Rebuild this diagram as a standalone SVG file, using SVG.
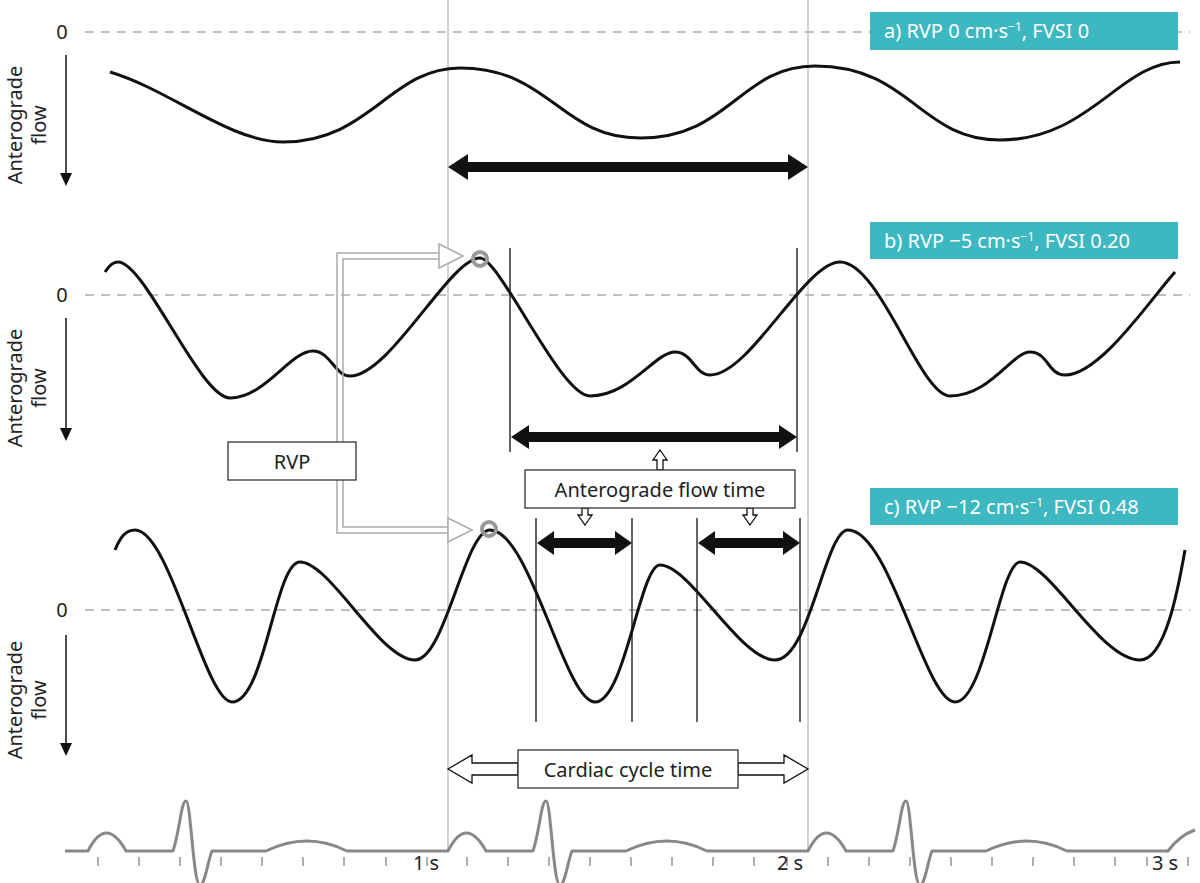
<svg xmlns="http://www.w3.org/2000/svg" width="1200" height="883" viewBox="0 0 1200 883">
<style>
text{font-family:"Source Sans Pro","Noto Sans","Open Sans",sans-serif;fill:#222}
.zero{stroke:#aaa;stroke-width:1.5;stroke-dasharray:9 7;fill:none}
.grid{stroke:#c4c4c4;stroke-width:1.5}
.wave{stroke:#111;stroke-width:3;fill:none}
.vl{stroke:#111;stroke-width:1.3}
.big{fill:#111}
.open{fill:#fff;stroke:#111;stroke-width:1.3}
.box{fill:#fff;stroke:#333;stroke-width:1.3}
.teal{fill:#3db8c0}
.tl{fill:#fff;font-size:20px}
.gconn{fill:none;stroke:#aaa;stroke-width:1.5}
</style>
<rect width="1200" height="883" fill="#fff"/>
<g id="axes">
<line class="grid" x1="448" y1="0" x2="448" y2="852"/>
<line class="grid" x1="808" y1="0" x2="808" y2="852"/>
<line class="zero" x1="85" y1="32" x2="1190" y2="32"/>
<line class="zero" x1="85" y1="295" x2="1190" y2="295"/>
<line class="zero" x1="85" y1="610" x2="1190" y2="610"/>
<g font-size="20">
<text x="62" y="39" text-anchor="middle">0</text>
<text x="62" y="302" text-anchor="middle">0</text>
<text x="62" y="617" text-anchor="middle">0</text>
</g>
<g stroke="#111" stroke-width="1.5">
<line x1="66" y1="55" x2="66" y2="175"/><line x1="66" y1="318" x2="66" y2="430"/><line x1="66" y1="635" x2="66" y2="745"/>
</g>
<g fill="#111">
<polygon points="60,173 72,173 66,186"/><polygon points="60,428 72,428 66,441"/><polygon points="60,743 72,743 66,756"/>
</g>
<g font-size="20" text-anchor="middle">
<text transform="translate(22,125) rotate(-90)">Anterograde</text><text transform="translate(46,125) rotate(-90)">flow</text>
<text transform="translate(22,388) rotate(-90)">Anterograde</text><text transform="translate(46,388) rotate(-90)">flow</text>
<text transform="translate(22,700) rotate(-90)">Anterograde</text><text transform="translate(46,700) rotate(-90)">flow</text>
</g>
</g>
<g id="labels">
<rect class="teal" x="870" y="12" width="308" height="38"/><text class="tl" x="884" y="38">a) RVP 0 cm·s<tspan font-size="12" dy="-7">−1</tspan><tspan dy="7">, FVSI 0</tspan></text>
<rect class="teal" x="870" y="222" width="308" height="37"/><text class="tl" x="884" y="248">b) RVP −5 cm·s<tspan font-size="12" dy="-7">−1</tspan><tspan dy="7">, FVSI 0.20</tspan></text>
<rect class="teal" x="870" y="488" width="308" height="37"/><text class="tl" x="884" y="514">c) RVP −12 cm·s<tspan font-size="12" dy="-7">−1</tspan><tspan dy="7">, FVSI 0.48</tspan></text>
</g>
<g id="waves">
<path class="wave" d="M110,72 C170,90 230,142 283,142 C370,142 390,68 460,68 C550,68 560,138 640,138 C730,138 740,66 815,66 C910,66 920,140 1000,140 C1090,140 1120,62 1180,62"/>
<path class="wave" d="M105,272 C110,265 113,262 118,262 C145,262 200,398 230,398 C265,398 290,351 313,351 C330,351 335,376 350,376 C390,376 450,258 480,258 C500,258 560,396 590,396 C630,396 655,352 675,352 C692,352 695,375 710,375 C750,375 805,262 840,262 C880,262 920,396 950,396 C990,396 1012,352 1030,352 C1048,352 1048,375 1065,375 C1100,375 1150,300 1175,272"/>
<path class="wave" d="M115,550 C120,538 125,530 135,530 C170,530 205,702 232,702 C265,702 275,562 300,562 C330,562 380,660 415,660 C445,660 465,530 490,530 C530,530 565,702 595,702 C625,702 640,565 660,565 C690,565 740,660 775,660 C810,660 825,530 848,530 C890,530 925,702 955,702 C985,702 1000,562 1020,562 C1050,562 1100,660 1140,660 C1165,660 1178,590 1185,550"/>
</g>
<g id="connectors">
<polygon class="big" points="448,167 468,154 468,162 788,162 788,154 808,167 788,180 788,172 468,172 468,180"/>
<line class="vl" x1="510" y1="248" x2="510" y2="452"/><line class="vl" x1="797" y1="248" x2="797" y2="452"/>
<polygon class="big" points="511,437 529,425 529,432 779,432 779,425 797,437 779,449 779,442 529,442 529,449"/>
<line class="vl" x1="536" y1="518" x2="536" y2="722"/><line class="vl" x1="632" y1="518" x2="632" y2="722"/>
<line class="vl" x1="697" y1="518" x2="697" y2="722"/><line class="vl" x1="800" y1="518" x2="800" y2="722"/>
<polygon class="big" points="537,543 554,531 554,538 615,538 615,531 632,543 615,555 615,548 554,548 554,555"/>
<polygon class="big" points="698,543 715,531 715,538 783,538 783,531 800,543 783,555 783,548 715,548 715,555"/>
<polygon class="open" points="660,450 667,460 663,460 663,470 657,470 657,460 653,460"/>
<polygon class="open" points="585,525 592,515 588,515 588,508 582,508 582,515 578,515"/>
<polygon class="open" points="750,525 757,515 753,515 753,508 747,508 747,515 743,515"/>
<polygon class="open" points="448,769 472,755 472,763 518,763 518,775 472,775 472,783"/>
<polygon class="open" points="808,769 784,755 784,763 738,763 738,775 784,775 784,783"/>
<path class="gconn" d="M337,442 V253 H439 M343,442 V259 H439 M337,480 V533 H448 M343,480 V527 H448"/>
<polygon fill="#fff" stroke="#aaa" stroke-width="1.5" points="439,244 463,256 439,268"/>
<polygon fill="#fff" stroke="#aaa" stroke-width="1.5" points="448,518 472,530 448,542"/>
<circle cx="480" cy="259" r="7" fill="none" stroke="#999" stroke-width="4"/>
<circle cx="489" cy="529" r="7" fill="none" stroke="#999" stroke-width="4"/>
</g>
<g id="boxes" font-size="20">
<rect class="box" x="228" y="442" width="128" height="38" stroke="#aaa"/><text x="292" y="469" text-anchor="middle">RVP</text>
<rect class="box" x="525" y="470" width="270" height="38"/><text x="660" y="497" text-anchor="middle">Anterograde flow time</text>
<rect class="box" x="518" y="750" width="220" height="38"/><text x="628" y="777" text-anchor="middle">Cardiac cycle time</text>
</g>
<g id="ecg">
<path fill="none" stroke="#888" stroke-width="3" stroke-linejoin="round" d="M65,851 L88,851 Q106,815 126,851 L173,851 C180,830 181,801 186,801 C191,801 193,885 200,885 C205,885 208,860 212,851 L266,851 Q307,831 347,851 L448,851 Q466,815 486,851 L533,851 C540,830 541,801 546,801 C551,801 553,885 560,885 C565,885 568,860 572,851 L626,851 Q667,831 707,851 L808,851 Q826,815 846,851 L893,851 C900,830 901,801 906,801 C911,801 913,885 920,885 C925,885 928,860 932,851 L986,851 Q1027,831 1067,851 L1168,851 Q1180,835 1195,830"/>
<g stroke="#777" stroke-width="1.2">
<line x1="98" y1="857" x2="98" y2="866"/><line x1="139" y1="857" x2="139" y2="866"/><line x1="180" y1="857" x2="180" y2="866"/><line x1="221" y1="857" x2="221" y2="866"/><line x1="262" y1="857" x2="262" y2="866"/><line x1="303" y1="857" x2="303" y2="866"/><line x1="344" y1="857" x2="344" y2="866"/><line x1="386" y1="857" x2="386" y2="866"/><line x1="427" y1="857" x2="427" y2="866"/><line x1="467" y1="857" x2="467" y2="866"/><line x1="508" y1="857" x2="508" y2="866"/><line x1="549" y1="857" x2="549" y2="866"/><line x1="590" y1="857" x2="590" y2="866"/><line x1="631" y1="857" x2="631" y2="866"/><line x1="672" y1="857" x2="672" y2="866"/><line x1="713" y1="857" x2="713" y2="866"/><line x1="754" y1="857" x2="754" y2="866"/><line x1="787" y1="857" x2="787" y2="866"/><line x1="828" y1="857" x2="828" y2="866"/><line x1="869" y1="857" x2="869" y2="866"/><line x1="910" y1="857" x2="910" y2="866"/><line x1="951" y1="857" x2="951" y2="866"/><line x1="992" y1="857" x2="992" y2="866"/><line x1="1033" y1="857" x2="1033" y2="866"/><line x1="1074" y1="857" x2="1074" y2="866"/><line x1="1115" y1="857" x2="1115" y2="866"/><line x1="1147" y1="857" x2="1147" y2="866"/><line x1="1188" y1="857" x2="1188" y2="866"/>
</g>
<g font-size="20" text-anchor="middle"><text x="426" y="870">1 s</text><text x="790" y="870">2 s</text><text x="1165" y="870">3 s</text></g>
</g>
</svg>
